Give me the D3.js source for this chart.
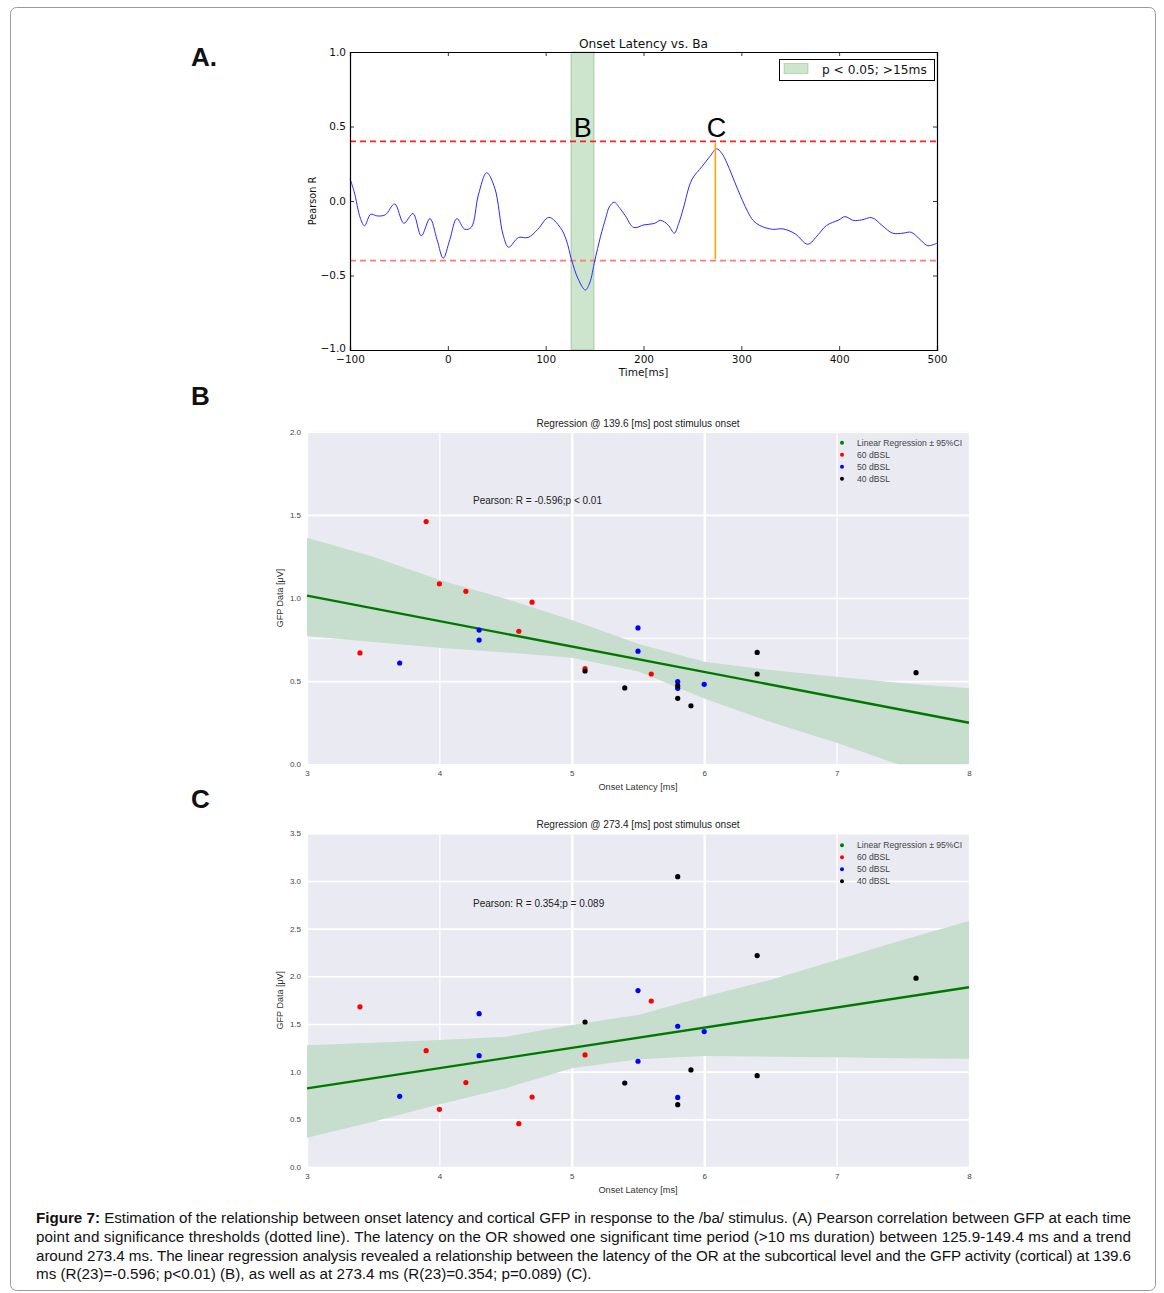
<!DOCTYPE html>
<html>
<head>
<meta charset="utf-8">
<script src="https://cdn.jsdelivr.net/npm/d3@7"></script>
<style>
  html, body { margin: 0; padding: 0; background: #fff; }
  svg { display: block; }
</style>
</head>
<body>
<svg id="fig" width="1164" height="1293"></svg>
<script>
// ---------------- DATA ----------------
// Panel A: Pearson R over time
const timeA = [-100,-95.8,-89.4,-85.2,-78.8,-72.5,-64,-54.3,-45,-35.6,-27.2,-18.3,-11,-4.7,2,9.2,17.3,24,31.2,39.7,48,56.6,62.1,72.3,82,92,103.2,115,121,126.5,133,140.5,145,150.2,156,161.6,165,170.1,176,181.5,190,200.6,211,217.5,225,231.5,236,240.8,249.3,259.9,268,274.7,280,285.3,295.8,306.4,312,319,331.8,342.4,355,367.8,378.4,386.9,399.6,406,414.4,422.9,433.4,444,454.6,465.2,473.7,484.2,490.6,500];
const pearsonR = [0.149,0.064,-0.116,-0.167,-0.089,-0.10,-0.093,-0.02,-0.149,-0.084,-0.234,-0.118,-0.26,-0.384,-0.26,-0.118,-0.19,-0.176,0.04,0.19,0.086,-0.23,-0.31,-0.245,-0.245,-0.19,-0.11,-0.178,-0.26,-0.395,-0.52,-0.597,-0.55,-0.40,-0.24,-0.11,-0.04,-0.008,-0.05,-0.10,-0.178,-0.16,-0.151,-0.13,-0.16,-0.216,-0.15,-0.048,0.142,0.232,0.30,0.35,0.32,0.254,0.086,-0.07,-0.13,-0.165,-0.19,-0.187,-0.22,-0.29,-0.227,-0.165,-0.127,-0.105,-0.13,-0.127,-0.112,-0.165,-0.216,-0.216,-0.21,-0.268,-0.30,-0.283];
const sigSpan = [125.9, 149.4];
const thresholds = [0.4, -0.4];
const trendTime = 273.4;
const trendRange = [0.39, -0.39];
const xTicksA = [-100, 0, 100, 200, 300, 400, 500];
const yTicksA = [-1.0, -0.5, 0.0, 0.5, 1.0];

// Panels B and C: scatter
const lat60 = [3.4, 3.9, 4.0, 4.2, 4.6, 4.7, 5.1, 5.6];
const gfpB60 = [0.67, 1.46, 1.085, 1.04, 0.80, 0.975, 0.575, 0.543];
const gfpC60 = [1.68, 1.22, 0.605, 0.885, 0.454, 0.734, 1.175, 1.741];
const lat50 = [3.7, 4.3, 4.3, 5.5, 5.5, 5.8, 5.8, 6.0];
const gfpB50 = [0.609, 0.747, 0.807, 0.82, 0.68, 0.497, 0.457, 0.481];
const gfpC50 = [0.741, 1.608, 1.168, 1.85, 1.109, 1.476, 0.73, 1.42];
const lat40 = [5.1, 5.4, 5.8, 5.8, 5.9, 6.4, 6.4, 7.6];
const gfpB40 = [0.561, 0.459, 0.473, 0.397, 0.352, 0.673, 0.543, 0.551];
const gfpC40 = [1.521, 0.881, 3.045, 0.654, 1.018, 2.217, 0.958, 1.98];

const regX = [3, 8];
const regB = [1.014, 0.250];
const regC = [0.825, 1.885];
const bandX = [3, 3.5, 4, 4.5, 5, 5.5, 6, 6.5, 7, 7.5, 8];
const bandBUpper = [1.363, 1.248, 1.108, 0.996, 0.868, 0.725, 0.617, 0.567, 0.527, 0.487, 0.457];
const bandBLower = [0.771, 0.736, 0.701, 0.673, 0.640, 0.560, 0.395, 0.255, 0.130, -0.01, -0.14];
const bandCUpper = [1.276, 1.304, 1.332, 1.367, 1.49, 1.595, 1.786, 1.962, 2.171, 2.381, 2.58];
const bandCLower = [0.307, 0.475, 0.658, 0.825, 1.035, 1.13, 1.164, 1.157, 1.15, 1.14, 1.136];

const xTicksBC = [3, 4, 5, 6, 7, 8];
const yTicksB = [0.0, 0.5, 1.0, 1.5, 2.0];
const yExtraGridB = [0.76];
const yTicksC = [0.0, 0.5, 1.0, 1.5, 2.0, 2.5, 3.0, 3.5];
const legendLabels = ["Linear Regression \u00B1 95%CI", "60 dBSL", "50 dBSL", "40 dBSL"];
const legendColors = ["#008000", "#ff0000", "#0000ff", "#000000"];

const captionLines = [
  "Estimation of the relationship between onset latency and cortical GFP in response to the /ba/ stimulus. (A) Pearson correlation between GFP at each time",
  "point and significance thresholds (dotted line). The latency on the OR showed one significant time period (>10 ms duration) between 125.9-149.4 ms and a trend",
  "around 273.4 ms. The linear regression analysis revealed a relationship between the latency of the OR at the subcortical level and the GFP activity (cortical) at 139.6",
  "ms (R(23)=-0.596; p<0.01) (B), as well as at 273.4 ms (R(23)=0.354; p=0.089) (C)."
];

// ---------------- DRAWING ----------------
const svg = d3.select("#fig");
const SANS = "'Liberation Sans', Arial, sans-serif";
const VERA = "'DejaVu Sans', sans-serif";

// outer border
svg.append("rect").attr("x", 10.5).attr("y", 7.5).attr("width", 1145).attr("height", 1283)
  .attr("rx", 6).attr("fill", "none").attr("stroke", "#9a9a9a").attr("stroke-width", 1);

// panel letters
[["A.", 57], ["B", 396], ["C", 799]].forEach(([t, y]) => {
  svg.append("text").attr("x", 191).attr("y", y + 9).text(t)
    .attr("font-family", SANS).attr("font-weight", "bold").attr("font-size", 26).attr("fill", "#111");
});

// ---------- Panel A ----------
const xA = d3.scaleLinear().domain([-100, 500]).range([350, 937]);
const yA = d3.scaleLinear().domain([-1, 1]).range([350, 52]);
const gA = svg.append("g");

gA.append("rect").attr("x", xA(sigSpan[0])).attr("y", yA(1))
  .attr("width", xA(sigSpan[1]) - xA(sigSpan[0])).attr("height", yA(-1) - yA(1))
  .attr("fill", "rgb(204,229,204)").attr("stroke", "rgba(0,100,0,0.25)").attr("stroke-width", 1);

thresholds.forEach((t, i) => {
  gA.append("line").attr("x1", xA(-100)).attr("x2", xA(500))
    .attr("y1", yA(t)).attr("y2", yA(t))
    .attr("stroke", i === 0 ? "#ff2020" : "#ff7a7a").attr("stroke-width", 1.8)
    .attr("stroke-dasharray", "6,4");
});

const lineA = d3.line().x((d, i) => xA(timeA[i])).y(d => yA(d)).curve(d3.curveCatmullRom.alpha(0.5));
gA.append("path").attr("d", lineA(pearsonR)).attr("fill", "none")
  .attr("stroke", "#2a2aff").attr("stroke-width", 1);

gA.append("line").attr("x1", xA(trendTime)).attr("x2", xA(trendTime))
  .attr("y1", yA(trendRange[0])).attr("y2", yA(trendRange[1]))
  .attr("stroke", "#ffa500").attr("stroke-width", 1.6);

gA.append("text").attr("x", xA(138)).attr("y", yA(0.43)).attr("text-anchor", "middle")
  .attr("font-family", SANS).attr("font-size", 27).text("B");
gA.append("text").attr("x", xA(274.5)).attr("y", yA(0.43)).attr("text-anchor", "middle")
  .attr("font-family", SANS).attr("font-size", 27).text("C");

// axes with inward ticks
const fmt1 = d3.format(".1f");
const axL = gA.append("g").attr("transform", `translate(${xA(-100)},0)`)
  .call(d3.axisLeft(yA).tickValues(yTicksA).tickSize(-4).tickPadding(4).tickFormat(fmt1));
const axR = gA.append("g").attr("transform", `translate(${xA(500)},0)`)
  .call(d3.axisRight(yA).tickValues(yTicksA).tickSize(-4).tickFormat(""));
const axB = gA.append("g").attr("transform", `translate(0,${yA(-1)})`)
  .call(d3.axisBottom(xA).tickValues(xTicksA).tickSize(-4).tickPadding(5.5).tickFormat(d3.format("d")));
const axT = gA.append("g").attr("transform", `translate(0,${yA(1)})`)
  .call(d3.axisTop(xA).tickValues(xTicksA).tickSize(-4).tickFormat(""));
[axL, axR, axB, axT].forEach(a => {
  a.select(".domain").attr("stroke", "#000").attr("stroke-width", 1.2);
  a.selectAll(".tick line").attr("stroke", "#000").attr("stroke-width", 0.8);
  a.selectAll("text").attr("font-family", VERA).attr("font-size", 10.5).attr("fill", "#111");
});
// keep the corner labels apart: lift the lowest y label slightly
axL.selectAll(".tick").filter(d => d === -1).select("text").attr("dy", "0.1em");

gA.append("text").attr("x", (xA(-100) + xA(500)) / 2).attr("y", 48).attr("text-anchor", "middle")
  .attr("font-family", VERA).attr("font-size", 12.2).attr("fill", "#111").text("Onset Latency vs. Ba");
gA.append("text").attr("x", (xA(-100) + xA(500)) / 2).attr("y", 376).attr("text-anchor", "middle")
  .attr("font-family", VERA).attr("font-size", 10.5).attr("fill", "#111").text("Time[ms]");
gA.append("text").attr("transform", `translate(316,${yA(0)}) rotate(-90)`).attr("text-anchor", "middle")
  .attr("font-family", VERA).attr("font-size", 9.7).attr("fill", "#111").text("Pearson R");

// legend A
gA.append("rect").attr("x", 779.5).attr("y", 59.5).attr("width", 155).attr("height", 21)
  .attr("fill", "#fff").attr("stroke", "#000").attr("stroke-width", 1);
gA.append("rect").attr("x", 784).attr("y", 63.5).attr("width", 24).attr("height", 10)
  .attr("fill", "rgb(204,229,204)").attr("stroke", "rgba(0,100,0,0.2)");
gA.append("text").attr("x", 822).attr("y", 74).attr("font-family", VERA).attr("font-size", 12.2)
  .attr("fill", "#111").text("p < 0.05; >15ms");

// ---------- Panels B & C ----------
function scatterPanel(cfg) {
  const x = d3.scaleLinear().domain([3, 8]).range([307, 969]);
  const y = d3.scaleLinear().domain(cfg.yDomain).range([cfg.bottom, cfg.top]);
  const g = svg.append("g");
  const clipId = "clip" + cfg.id;
  g.append("clipPath").attr("id", clipId).append("rect")
    .attr("x", x(3)).attr("y", y(cfg.yDomain[1])).attr("width", x(8) - x(3))
    .attr("height", y(cfg.yDomain[0]) - y(cfg.yDomain[1]));
  g.append("rect").attr("x", x(3)).attr("y", y(cfg.yDomain[1])).attr("width", x(8) - x(3))
    .attr("height", y(cfg.yDomain[0]) - y(cfg.yDomain[1])).attr("fill", "#eaeaf2");

  // grid
  const gridY = g.append("g").attr("transform", `translate(${x(3)},0)`)
    .call(d3.axisLeft(y).tickValues(cfg.yTicks.concat(cfg.extraGrid || [])).tickSize(-(x(8) - x(3))).tickFormat(""));
  gridY.select(".domain").remove();
  gridY.selectAll(".tick line").attr("stroke", "#fff").attr("stroke-width", 1.6)
    .attr("stroke-opacity", d => (cfg.extraGrid || []).includes(d) ? 0.7 : 1);
  const gridX = g.append("g").attr("transform", `translate(0,${y(cfg.yDomain[0])})`)
    .call(d3.axisBottom(x).tickValues(xTicksBC).tickSize(-(y(cfg.yDomain[0]) - y(cfg.yDomain[1]))).tickFormat(""));
  gridX.select(".domain").remove();
  gridX.selectAll(".tick line").attr("stroke", "#fff")
    .attr("stroke-width", d => (d === 5 || d === 6) ? 2.4 : 1.3);

  // tick labels
  const tl = g.append("g").attr("transform", `translate(${x(3)},0)`)
    .call(d3.axisLeft(y).tickValues(cfg.yTicks).tickSize(0).tickPadding(6).tickFormat(fmt1));
  tl.select(".domain").remove();
  tl.selectAll("text").attr("font-family", SANS).attr("font-size", 8).attr("fill", "#444");
  const bl = g.append("g").attr("transform", `translate(0,${y(cfg.yDomain[0])})`)
    .call(d3.axisBottom(x).tickValues(xTicksBC).tickSize(0).tickPadding(6).tickFormat(d3.format("d")));
  bl.select(".domain").remove();
  bl.selectAll("text").attr("font-family", SANS).attr("font-size", 8).attr("fill", "#444");

  // CI band
  const area = d3.area().x((d, i) => x(bandX[i])).y0((d, i) => y(cfg.lower[i])).y1(d => y(d));
  g.append("path").attr("d", area(cfg.upper)).attr("clip-path", `url(#${clipId})`)
    .attr("fill", "rgb(199,221,205)");
  // regression line
  g.append("line").attr("x1", x(regX[0])).attr("x2", x(regX[1]))
    .attr("y1", y(cfg.reg[0])).attr("y2", y(cfg.reg[1]))
    .attr("stroke", "#007800").attr("stroke-width", 2.4);

  // points
  const groups = [[lat60, cfg.g60, "#ff0000"], [lat50, cfg.g50, "#0000ff"], [lat40, cfg.g40, "#000000"]];
  groups.forEach(([lx, gy, col]) => {
    g.append("g").selectAll("circle").data(gy).join("circle")
      .attr("cx", (d, i) => x(lx[i])).attr("cy", d => y(d)).attr("r", 2.6).attr("fill", col);
  });

  // title, labels
  g.append("text").attr("x", 638).attr("y", cfg.top - 5).attr("text-anchor", "middle")
    .attr("font-family", SANS).attr("font-size", 10.1).attr("fill", "#222").text(cfg.title);
  g.append("text").attr("x", 638).attr("y", y(cfg.yDomain[0]) + 26).attr("text-anchor", "middle")
    .attr("font-family", SANS).attr("font-size", 9.2).attr("fill", "#333").text("Onset Latency [ms]");
  g.append("text").attr("transform", `translate(283,${(y(cfg.yDomain[0]) + y(cfg.yDomain[1])) / 2}) rotate(-90)`)
    .attr("text-anchor", "middle").attr("font-family", SANS).attr("font-size", 9).attr("fill", "#333")
    .text("GFP Data [\u03BCV]");
  g.append("text").attr("x", 473).attr("y", cfg.pearsonY).attr("font-family", SANS).attr("font-size", 10)
    .attr("fill", "#222").text(cfg.pearson);

  // legend
  legendLabels.forEach((lab, i) => {
    const ly = cfg.legendY + i * 12;
    g.append("circle").attr("cx", 842).attr("cy", ly).attr("r", 2).attr("fill", legendColors[i]);
    g.append("text").attr("x", 857).attr("y", ly + 3).attr("font-family", SANS).attr("font-size", 8.6)
      .attr("fill", "#444").text(lab);
  });
}

scatterPanel({
  id: "B", yDomain: [0, 2], bottom: 764.3, top: 431.7, yTicks: yTicksB, extraGrid: yExtraGridB,
  upper: bandBUpper, lower: bandBLower, reg: regB, g60: gfpB60, g50: gfpB50, g40: gfpB40,
  title: "Regression @ 139.6 [ms] post stimulus onset", pearson: "Pearson: R = -0.596;p < 0.01",
  pearsonY: 503.5, legendY: 442.7
});
scatterPanel({
  id: "C", yDomain: [0, 3.5], bottom: 1167, top: 833.3, yTicks: yTicksC, extraGrid: [],
  upper: bandCUpper, lower: bandCLower, reg: regC, g60: gfpC60, g50: gfpC50, g40: gfpC40,
  title: "Regression @ 273.4 [ms] post stimulus onset", pearson: "Pearson: R = 0.354;p = 0.089",
  pearsonY: 906.5, legendY: 845.3
});

// ---------- Caption ----------
const capY = [1223, 1242, 1261, 1279];
captionLines.forEach((line, i) => {
  const t = svg.append("text").attr("x", 36).attr("y", capY[i])
    .attr("font-family", SANS).attr("font-size", 15.2).attr("fill", "#111");
  if (i === 0) {
    t.append("tspan").attr("font-weight", "bold").text("Figure 7: ");
  }
  t.append("tspan").text(line);
  if (i < 3) t.attr("textLength", 1095).attr("lengthAdjust", "spacing");
});
</script>
</body>
</html>
